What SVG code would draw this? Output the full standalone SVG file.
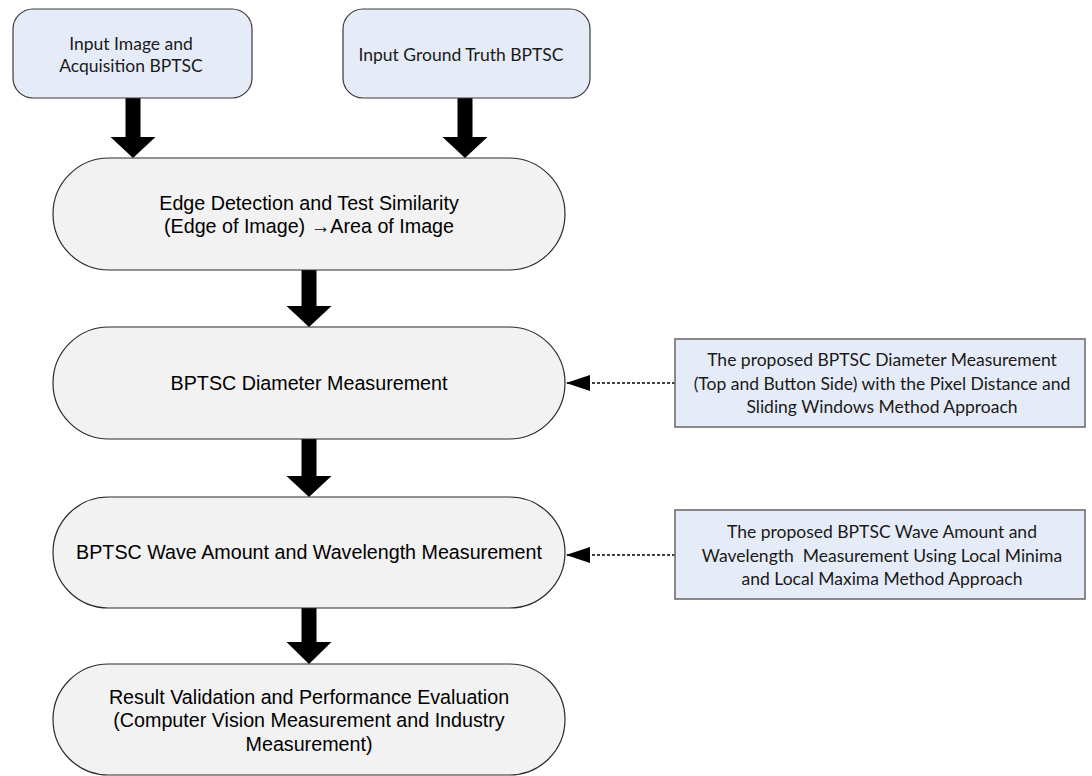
<svg xmlns="http://www.w3.org/2000/svg" width="1092" height="776" viewBox="0 0 1092 776">
<style>
.inbox{fill:#e6ecf7;stroke:#3a3a3a;stroke-width:1.2}
.side{fill:#e6ecf7;stroke:#6e6e6e;stroke-width:1.6}
.term{fill:#f2f2f2;stroke:#2b2b2b;stroke-width:1.2}
.cal{font-family:Lato,"Open Sans",sans-serif;font-size:17.5px;fill:#1a1a1a;text-anchor:middle}
.ari{font-family:"Liberation Sans",Arial,sans-serif;font-size:19.7px;fill:#000;text-anchor:middle}
.blk{fill:#000;stroke:none}
.dash{fill:none;stroke:#000;stroke-width:1.5;stroke-dasharray:3 2}
</style>
<defs>
<marker id="ah" markerWidth="24" markerHeight="16" refX="24" refY="8" orient="auto" markerUnits="userSpaceOnUse">
<path d="M0,0 L24,8 L0,16 Z" fill="#000"/>
</marker>
</defs>
<rect width="1092" height="776" fill="#fff"/>
<g id="connectors">
<polygon class="blk" points="125.5,98 140.5,98 140.5,137 155.5,137 133,158 110.5,137 125.5,137"/>
<polygon class="blk" points="457.5,98 472.5,98 472.5,137 487.5,137 465,158 442.5,137 457.5,137"/>
<polygon class="blk" points="301.5,270 316.5,270 316.5,306 331.5,306 309,327 286.5,306 301.5,306"/>
<polygon class="blk" points="301.5,439 316.5,439 316.5,476 331.5,476 309,497 286.5,476 301.5,476"/>
<polygon class="blk" points="301.5,608 316.5,608 316.5,642 331.5,642 309,664 286.5,642 301.5,642"/>
<line class="dash" x1="675" y1="383" x2="566" y2="383" marker-end="url(#ah)"/>
<line class="dash" x1="675" y1="555" x2="566" y2="555" marker-end="url(#ah)"/>
</g>
<g id="input-image">
<rect class="inbox" x="13" y="9" width="239" height="89" rx="20"/>
<text class="cal" x="131" y="50">Input Image and</text>
<text class="cal" x="131" y="72">Acquisition BPTSC</text>
</g>
<g id="input-ground-truth">
<rect class="inbox" x="343" y="9" width="247" height="89" rx="20"/>
<text class="cal" x="461" y="61">Input Ground Truth BPTSC</text>
</g>
<g id="edge-detection">
<rect class="term" x="53" y="158" width="512" height="112" rx="56"/>
<text class="ari" x="309" y="209.5">Edge Detection and Test Similarity</text>
<text class="ari" x="309" y="233">(Edge of Image) →Area of Image</text>
</g>
<g id="diameter">
<rect class="term" x="53" y="327" width="512" height="112" rx="56"/>
<text class="ari" x="309" y="390">BPTSC Diameter Measurement</text>
</g>
<g id="wave">
<rect class="term" x="53" y="497" width="512" height="111" rx="55.5"/>
<text class="ari" x="309" y="559">BPTSC Wave Amount and Wavelength Measurement</text>
</g>
<g id="result">
<rect class="term" x="53" y="664" width="512" height="111" rx="55.5"/>
<text class="ari" x="309" y="703.5">Result Validation and Performance Evaluation</text>
<text class="ari" x="309" y="727">(Computer Vision Measurement and Industry</text>
<text class="ari" x="309" y="750.5">Measurement)</text>
</g>
<g id="note-diameter">
<rect class="side" x="675" y="339" width="410" height="88"/>
<text class="cal" x="882" y="366">The proposed BPTSC Diameter Measurement</text>
<text class="cal" x="882" y="389.5">(Top and Button Side) with the Pixel Distance and</text>
<text class="cal" x="882" y="413">Sliding Windows Method Approach</text>
</g>
<g id="note-wave">
<rect class="side" x="675" y="510" width="410" height="89"/>
<text class="cal" x="882" y="538">The proposed BPTSC Wave Amount and</text>
<text class="cal" x="882" y="561.5" xml:space="preserve">Wavelength  Measurement Using Local Minima</text>
<text class="cal" x="882" y="585">and Local Maxima Method Approach</text>
</g>
</svg>
